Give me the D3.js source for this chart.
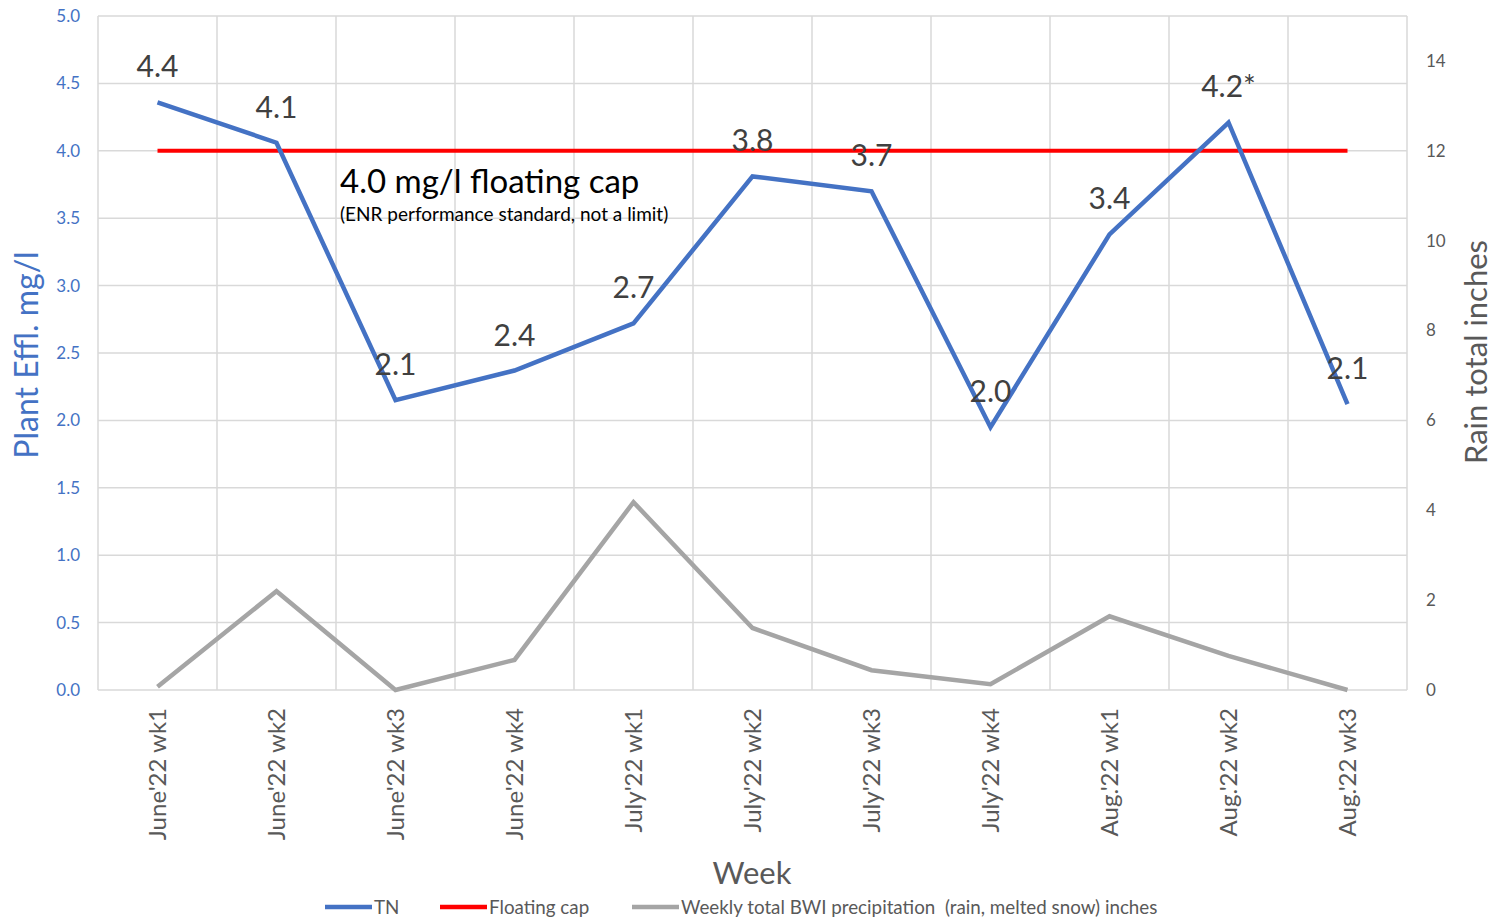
<!DOCTYPE html>
<html>
<head>
<meta charset="utf-8">
<script src="https://cdn.jsdelivr.net/npm/d3@7.9.0/dist/d3.min.js"></script>
<style>
  body { margin: 0; background: #fff; }
  svg text { font-family: Lato, "Open Sans", sans-serif; }
</style>
</head>
<body>
<svg id="chart" width="1502" height="921"></svg>
<script>
// chart data
const weeks = ["June'22 wk1", "June'22 wk2", "June'22 wk3", "June'22 wk4", "July'22 wk1", "July'22 wk2",
               "July'22 wk3", "July'22 wk4", "Aug.'22 wk1", "Aug.'22 wk2", "Aug.'22 wk3"];
const tn = [4.36, 4.06, 2.15, 2.37, 2.72, 3.81, 3.70, 1.95, 3.38, 4.21, 2.12];
const tnLabels = ["4.4", "4.1", "2.1", "2.4", "2.7", "3.8", "3.7", "2.0", "3.4", "4.2*", "2.1"];
const floatingCap = 4.0;
const rain = [0.07, 2.2, 0.0, 0.67, 4.18, 1.38, 0.44, 0.13, 1.64, 0.76, 0.0];
const leftTicks = [0, 0.5, 1, 1.5, 2, 2.5, 3, 3.5, 4, 4.5, 5];
const rightTicks = [0, 2, 4, 6, 8, 10, 12, 14];

const svg = d3.select('#chart');
const plotLeft = 98, plotRight = 1407, plotTop = 16, plotBottom = 690;

const x = d3.scaleBand().domain(weeks).range([plotLeft, plotRight]);
const yL = d3.scaleLinear().domain([0, 5]).range([plotBottom, plotTop]);
const yR = d3.scaleLinear().domain([0, 15]).range([plotBottom, plotTop]);
const cx = d => x(d) + x.bandwidth() / 2;

// gridlines
svg.append('g').selectAll('line').data(leftTicks).join('line')
  .attr('x1', plotLeft).attr('x2', plotRight)
  .attr('y1', d => yL(d)).attr('y2', d => yL(d))
  .attr('stroke', '#d9d9d9').attr('stroke-width', 1.5);
const vEdges = weeks.map(w => x(w)).concat([plotRight]);
svg.append('g').selectAll('line').data(vEdges).join('line')
  .attr('x1', d => d).attr('x2', d => d)
  .attr('y1', plotTop).attr('y2', plotBottom)
  .attr('stroke', '#d9d9d9').attr('stroke-width', 1.5);

// left axis labels
svg.append('g').selectAll('text').data(leftTicks).join('text')
  .attr('x', 80).attr('y', d => yL(d)).attr('dy', '0.35em')
  .attr('text-anchor', 'end').attr('font-size', 17).attr('fill', '#4472c4')
  .text(d => d.toFixed(1));

// right axis labels
svg.append('g').selectAll('text').data(rightTicks).join('text')
  .attr('x', 1426).attr('y', d => yR(d)).attr('dy', '0.35em')
  .attr('font-size', 17).attr('fill', '#595959')
  .text(d => d);

// x labels (rotated)
svg.append('g').selectAll('text').data(weeks).join('text')
  .attr('transform', d => `translate(${cx(d) + 8},708) rotate(-90)`)
  .attr('text-anchor', 'end').attr('font-size', 24).attr('fill', '#595959')
  .text(d => d);

// axis titles
svg.append('text').attr('transform', 'translate(38,355) rotate(-90)')
  .attr('text-anchor', 'middle').attr('font-size', 32).attr('fill', '#4472c4')
  .text('Plant Effl. mg/l');
svg.append('text').attr('transform', 'translate(1487,352) rotate(-90)')
  .attr('text-anchor', 'middle').attr('font-size', 31).attr('fill', '#595959')
  .text('Rain total inches');
svg.append('text').attr('x', 752).attr('y', 884)
  .attr('text-anchor', 'middle').attr('font-size', 31).attr('fill', '#595959')
  .text('Week');

// rain line
const rainLine = d3.line().x((d, i) => cx(weeks[i])).y(d => yR(d));
svg.append('path').attr('d', rainLine(rain))
  .attr('fill', 'none').attr('stroke', '#a5a5a5').attr('stroke-width', 4.5);

// floating cap
const capLine = d3.line().x(d => cx(d)).y(() => yL(floatingCap));
svg.append('path').attr('d', capLine([weeks[0], weeks[weeks.length - 1]]))
  .attr('fill', 'none').attr('stroke', '#ff0000').attr('stroke-width', 4);

// TN line
const tnLine = d3.line().x((d, i) => cx(weeks[i])).y(d => yL(d));
svg.append('path').attr('d', tnLine(tn))
  .attr('fill', 'none').attr('stroke', '#4472c4').attr('stroke-width', 4.5);

// data labels
svg.append('g').selectAll('text').data(tn).join('text')
  .attr('x', (d, i) => cx(weeks[i])).attr('y', d => yL(d) - 25)
  .attr('text-anchor', 'middle').attr('font-size', 30).attr('fill', '#404040')
  .text((d, i) => tnLabels[i]);

// annotation
svg.append('text').attr('x', 340).attr('y', 193)
  .attr('font-size', 33).attr('fill', '#000')
  .text('4.0 mg/l floating cap');
svg.append('text').attr('x', 340).attr('y', 221)
  .attr('font-size', 19).attr('fill', '#000')
  .text('(ENR performance standard, not a limit)');

// legend
const legend = [
  { name: 'TN', color: '#4472c4', x: 325 },
  { name: 'Floating cap', color: '#ff0000', x: 440 },
  { name: 'Weekly total BWI precipitation  (rain, melted snow) inches', color: '#a5a5a5', x: 632 }
];
const lg = svg.append('g').selectAll('g').data(legend).join('g')
  .attr('transform', d => `translate(${d.x},907)`);
lg.append('line').attr('x1', 0).attr('x2', 47)
  .attr('stroke', d => d.color).attr('stroke-width', 4.5);
lg.append('text').attr('x', 49).attr('dy', '0.35em')
  .attr('font-size', 18.8).attr('fill', '#595959')
  .style('white-space', 'pre')
  .text(d => d.name);
</script>
</body>
</html>
